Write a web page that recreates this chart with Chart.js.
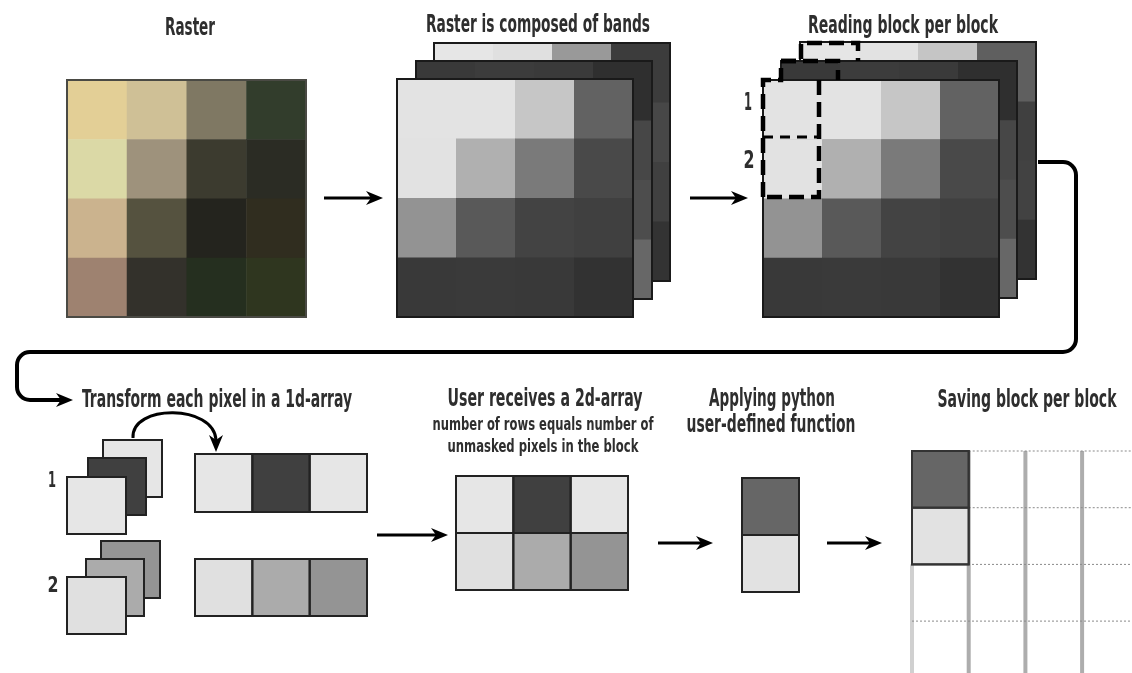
<!DOCTYPE html>
<html>
<head>
<meta charset="utf-8">
<title>Block per block raster processing</title>
<script src="https://cdn.jsdelivr.net/npm/chart.js@4.4.1/dist/chart.umd.min.js"></script>
<style>
  html, body { margin: 0; padding: 0; background: #fff; }
  #wrap { position: relative; width: 1132px; height: 673px; }
</style>
</head>
<body>
<div id="wrap"><canvas id="diagram"></canvas></div>
<script>
// Step titles
const topTitles = ['Raster', 'Raster is composed of bands', 'Reading block per block'];
const bottomTitles = ['Transform each pixel in a 1d-array', 'User receives a 2d-array', 'Applying python', 'user-defined function', 'Saving block per block'];
const subTitles = ['number of rows equals number of', 'unmasked pixels in the block'];
const blockLabels = ['1', '2'];

// RGB raster, 4 x 4 pixels
const rasterColors = [
  ['#e3cf96', '#cfc096', '#7f7863', '#323d2c'],
  ['#dbd9a6', '#9e927c', '#3c3b2f', '#2b2c24'],
  ['#cbb38e', '#55523f', '#24241e', '#302d1f'],
  ['#9e8270', '#33312b', '#252f1f', '#2f361f']
];

// grey values of the three bands (front, middle, back)
const band1 = [[227, 227, 198, 98], [226, 176, 122, 73], [147, 89, 67, 64], [57, 58, 57, 50]];
const band2 = [[57, 60, 58, 47], [62, 64, 60, 71], [64, 62, 60, 77], [60, 58, 56, 103]];
const band3 = [[230, 224, 153, 60], [70, 70, 68, 71], [68, 66, 64, 64], [58, 56, 54, 51]];
const band3Read = [[230, 226, 197, 95], [70, 70, 68, 64], [68, 66, 64, 66], [58, 56, 54, 51]];

// one pixel per block, value of each band
const pixel1 = [230, 64, 230];
const pixel2 = [224, 171, 148];
// result of the user function for the two pixels
const result = [102, 226];

const gray = v => `rgb(${v},${v},${v})`;
const toColors = grid => grid.map(row => row.map(gray));

// layout (pixels of the 1132 x 673 frame)
const layout = {
  raster: { x: 67, y: 80, w: 239, h: 237 },
  bands: [{ x: 434, y: 43 }, { x: 416, y: 61 }, { x: 397, y: 79 }],
  bandSize: { w: 236, h: 238 },
  read: [{ x: 800, y: 42 }, { x: 781, y: 61 }, { x: 763, y: 80 }],
  readSize: { w: 236, h: 237 },
  stack1: [{ x: 103, y: 440 }, { x: 88, y: 458 }, { x: 67, y: 477 }],
  stack2: [{ x: 101, y: 541 }, { x: 86, y: 559 }, { x: 67, y: 577 }],
  arr1: { x: 195, y: 454, w: 172, h: 58 },
  arr2: { x: 195, y: 559, w: 172, h: 57 },
  arr2d: { x: 456, y: 476, w: 172, h: 114 },
  res: { x: 742, y: 478, w: 57, h: 114 },
  save: { x: 912, y: 451, c: 56.7 }
};

const texts = [
  { t: topTitles[0], x: 190, y: 35, s: 25, w: 50 },
  { t: topTitles[1], x: 538, y: 32, s: 25, w: 224 },
  { t: topTitles[2], x: 903, y: 33, s: 25, w: 190 },
  { t: bottomTitles[0], x: 217, y: 407, s: 25, w: 270 },
  { t: bottomTitles[1], x: 545, y: 406, s: 25, w: 195 },
  { t: subTitles[0], x: 543, y: 430, s: 18, w: 221 },
  { t: subTitles[1], x: 543, y: 452, s: 18, w: 191 },
  { t: bottomTitles[2], x: 772, y: 406, s: 25, w: 126 },
  { t: bottomTitles[3], x: 771, y: 432, s: 25, w: 169 },
  { t: bottomTitles[4], x: 1027, y: 407, s: 25, w: 179 },
  { t: blockLabels[0], x: 748, y: 110, s: 25, w: 8 },
  { t: blockLabels[1], x: 749, y: 168, s: 25, w: 11 },
  { t: blockLabels[0], x: 52, y: 487, s: 22, w: 8 },
  { t: blockLabels[1], x: 53, y: 592, s: 22, w: 11 }
];

const FONT = '"Liberation Sans Narrow", "DejaVu Sans Condensed", "Roboto", sans-serif';

function pxRect(s, x, y, w, h) {
  const x1 = s.x.getPixelForValue(x), x2 = s.x.getPixelForValue(x + w);
  const y1 = s.y.getPixelForValue(y), y2 = s.y.getPixelForValue(y + h);
  return [x1, y1, x2 - x1, y2 - y1];
}

function drawGrid(ctx, s, x, y, w, h, colors, opt) {
  const rows = colors.length, cols = colors[0].length;
  const cw = w / cols, ch = h / rows;
  colors.forEach((row, r) => {
    row.forEach((c, k) => {
      ctx.fillStyle = c;
      ctx.fillRect(...pxRect(s, x + k * cw, y + r * ch, cw + 0.5, ch + 0.5));
    });
  });
  ctx.strokeStyle = opt.line || '#222';
  ctx.lineWidth = opt.width || 2;
  if (opt.cells) {
    colors.forEach((row, r) => row.forEach((c, k) => {
      ctx.strokeRect(...pxRect(s, x + k * cw, y + r * ch, cw, ch));
    }));
  }
  ctx.strokeRect(...pxRect(s, x, y, w, h));
}

function line(ctx, s, pts) {
  ctx.beginPath();
  pts.forEach((p, i) => {
    const X = s.x.getPixelForValue(p[0]), Y = s.y.getPixelForValue(p[1]);
    i ? ctx.lineTo(X, Y) : ctx.moveTo(X, Y);
  });
  ctx.stroke();
}

// barbed arrow head, tip at (x, y), pointing at angle a
function head(ctx, s, x, y, a) {
  const X = s.x.getPixelForValue(x), Y = s.y.getPixelForValue(y);
  ctx.save();
  ctx.translate(X, Y);
  ctx.rotate(a);
  ctx.beginPath();
  ctx.moveTo(0, 0);
  ctx.lineTo(-17, -7);
  ctx.lineTo(-12, 0);
  ctx.lineTo(-17, 7);
  ctx.closePath();
  ctx.fillStyle = '#000';
  ctx.fill();
  ctx.restore();
}

function arrow(ctx, s, x1, x2, y) {
  ctx.strokeStyle = '#000';
  ctx.lineWidth = 3;
  line(ctx, s, [[x1, y], [x2 - 10, y]]);
  head(ctx, s, x2, y, 0);
}

const diagramPlugin = {
  id: 'diagram',
  afterDraw(chart) {
    const ctx = chart.ctx;
    const s = chart.scales;
    const L = layout;
    ctx.save();
    ctx.lineJoin = 'miter';

    // raster
    drawGrid(ctx, s, L.raster.x, L.raster.y, L.raster.w, L.raster.h, rasterColors, { line: '#4a4a44', width: 2 });

    // bands, back to front
    [band3, band2, band1].forEach((b, i) => {
      const p = L.bands[i];
      drawGrid(ctx, s, p.x, p.y, L.bandSize.w, L.bandSize.h, toColors(b), { line: '#1a1a1a', width: 2 });
    });

    // reading block per block
    [band3Read, band2, band1].forEach((b, i) => {
      const p = L.read[i];
      drawGrid(ctx, s, p.x, p.y, L.readSize.w, L.readSize.h, toColors(b), { line: '#1a1a1a', width: 2 });
    });

    // dashed block outlines
    ctx.strokeStyle = '#000';
    ctx.lineWidth = 4.5;
    ctx.setLineDash([15, 7]);
    line(ctx, s, [[763, 197], [763, 80], [781, 80], [781, 61], [801, 61], [801, 43], [858, 43], [858, 61]]);
    line(ctx, s, [[781, 61], [838, 61], [838, 80]]);
    line(ctx, s, [[819, 80], [819, 197], [763, 197]]);
    ctx.lineWidth = 3;
    ctx.setLineDash([10, 7]);
    line(ctx, s, [[763, 137], [819, 137]]);
    ctx.setLineDash([]);

    // straight arrows
    arrow(ctx, s, 324, 383, 198);
    arrow(ctx, s, 690, 748, 198);
    arrow(ctx, s, 377, 448, 535);
    arrow(ctx, s, 658, 713, 543);
    arrow(ctx, s, 827, 882, 543);

    // connector from reading block to the second row
    const P = (x, y) => [s.x.getPixelForValue(x), s.y.getPixelForValue(y)];
    ctx.strokeStyle = '#000';
    ctx.lineWidth = 4;
    ctx.beginPath();
    ctx.moveTo(...P(1038, 162));
    ctx.arcTo(...P(1076, 162), ...P(1076, 200), 13);
    ctx.arcTo(...P(1076, 352), ...P(1000, 352), 13);
    ctx.arcTo(...P(17, 352), ...P(17, 380), 13);
    ctx.arcTo(...P(17, 400), ...P(40, 400), 13);
    ctx.lineTo(...P(62, 400));
    ctx.stroke();
    head(ctx, s, 73, 400, 0);

    // curved arrow, pixel to 1d-array
    ctx.lineWidth = 3;
    ctx.beginPath();
    ctx.moveTo(...P(133, 438));
    ctx.bezierCurveTo(...P(131, 404), ...P(214, 404), ...P(216, 440));
    ctx.stroke();
    head(ctx, s, 216, 452, Math.PI / 2);

    // pixel stacks
    const stackSize = [{ w: 59, h: 57 }, { w: 58, h: 57 }, { w: 59, h: 57 }];
    [[L.stack1, pixel1], [L.stack2, pixel2]].forEach(([st, px]) => {
      [2, 1, 0].forEach((band, i) => {
        const p = st[i];
        drawGrid(ctx, s, p.x, p.y, stackSize[i].w, stackSize[i].h, [[gray(px[band])]], { line: '#222', width: 2 });
      });
    });

    // 1d-arrays
    drawGrid(ctx, s, L.arr1.x, L.arr1.y, L.arr1.w, L.arr1.h, [pixel1.map(gray)], { line: '#222', width: 2, cells: true });
    drawGrid(ctx, s, L.arr2.x, L.arr2.y, L.arr2.w, L.arr2.h, [pixel2.map(gray)], { line: '#222', width: 2, cells: true });

    // 2d-array
    drawGrid(ctx, s, L.arr2d.x, L.arr2d.y, L.arr2d.w, L.arr2d.h, [pixel1.map(gray), pixel2.map(gray)], { line: '#222', width: 2, cells: true });

    // saving grid
    const g = L.save;
    ctx.lineWidth = 4;
    for (let k = 0; k < 4; k++) {
      ctx.strokeStyle = k === 0 ? '#d0d0d0' : '#adadad';
      const x = g.x + k * g.c;
      line(ctx, s, [[x, k === 0 ? g.y + 2 * g.c : g.y], [x, 673]]);
    }
    ctx.lineWidth = 1;
    ctx.strokeStyle = '#8a8a8a';
    ctx.setLineDash([2, 2]);
    for (let r = 0; r < 4; r++) {
      const y = g.y + r * g.c;
      line(ctx, s, [[r < 2 ? g.x + g.c : g.x, y], [1132, y]]);
    }
    ctx.setLineDash([]);

    // result column and the saved block
    drawGrid(ctx, s, L.res.x, L.res.y, L.res.w, L.res.h, result.map(v => [gray(v)]), { line: '#222', width: 2, cells: true });
    drawGrid(ctx, s, g.x, g.y, g.c, 2 * g.c, result.map(v => [gray(v)]), { line: '#333', width: 2, cells: true });

    // texts
    ctx.fillStyle = '#2e2e2e';
    ctx.textBaseline = 'alphabetic';
    ctx.textAlign = 'left';
    texts.forEach(d => {
      ctx.font = `bold ${d.s}px ${FONT}`;
      const m = ctx.measureText(d.t).width;
      const X = s.x.getPixelForValue(d.x), Y = s.y.getPixelForValue(d.y);
      ctx.save();
      ctx.translate(X - d.w / 2, Y);
      ctx.scale(d.w / m, 1);
      ctx.fillText(d.t, 0, 0);
      ctx.restore();
    });

    ctx.restore();
  }
};

new Chart(document.getElementById('diagram'), {
  type: 'scatter',
  data: { datasets: [{ data: [] }] },
  options: {
    responsive: true,
    maintainAspectRatio: false,
    animation: false,
    layout: { padding: 0 },
    plugins: { legend: { display: false }, tooltip: { enabled: false } },
    scales: {
      x: { type: 'linear', min: 0, max: 1132, display: false },
      y: { type: 'linear', min: 0, max: 673, reverse: true, display: false }
    }
  },
  plugins: [diagramPlugin]
});
</script>
</body>
</html>
